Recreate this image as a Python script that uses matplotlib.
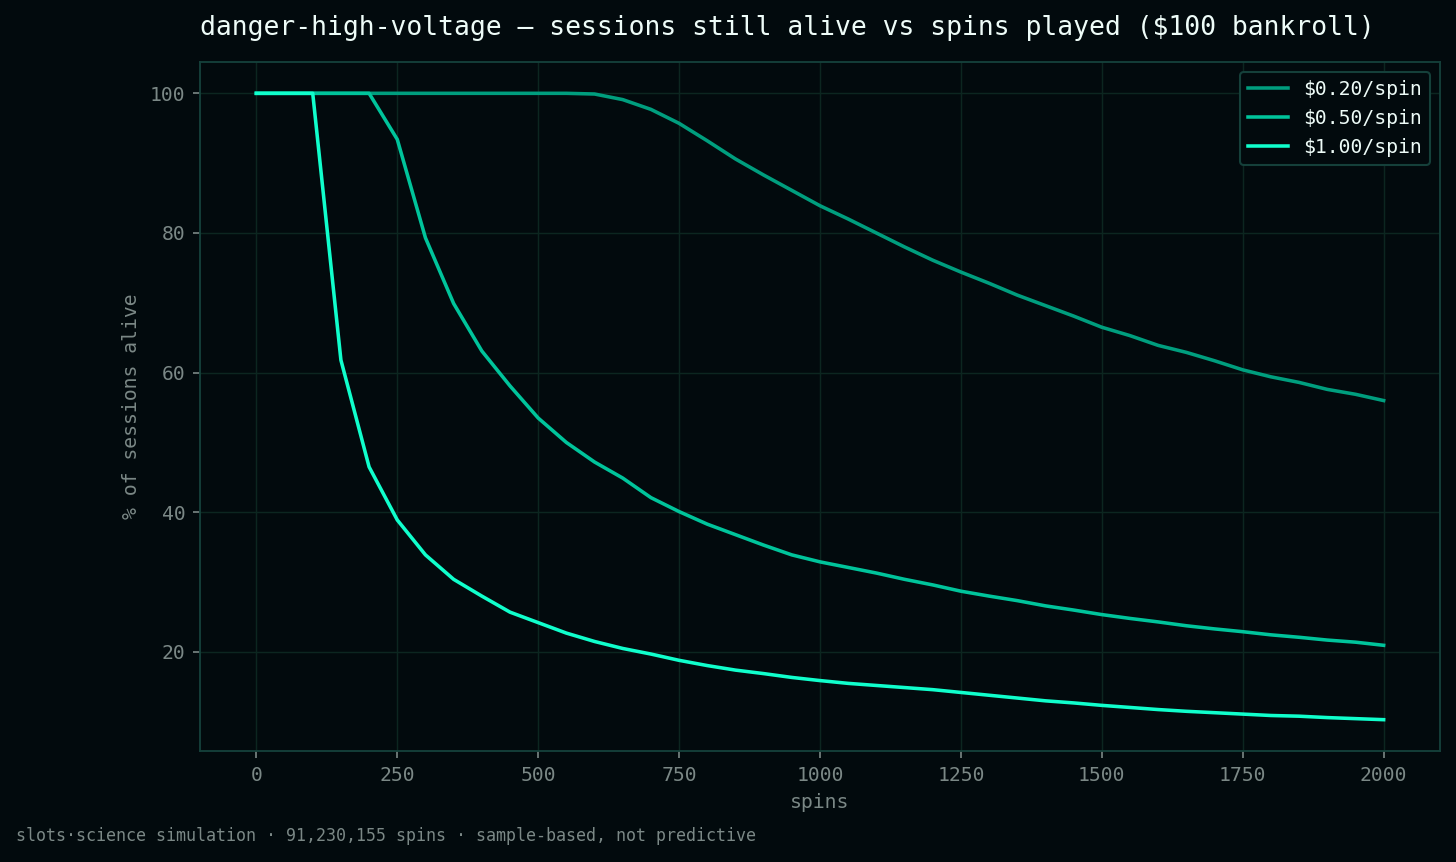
import numpy as np
import matplotlib
matplotlib.use("Agg")
import matplotlib.pyplot as plt

# spins played, every 50 spins
spins = np.arange(0, 2001, 50)

# % of sessions still alive
alive_020 = [100, 100, 100, 100, 100, 100, 100, 100, 100, 100,
             100, 100, 99.9, 99.1, 97.7, 95.7, 93.2, 90.6, 88.3, 86.1,
             83.9, 82.0, 80.0, 78.0, 76.1, 74.4, 72.8, 71.1, 69.6, 68.1,
             66.5, 65.3, 63.9, 62.9, 61.7, 60.4, 59.4, 58.6, 57.6, 56.9,
             56.0]
alive_050 = [100, 100, 100, 100, 100, 93.4, 79.3, 69.9, 63.1, 58.1,
             53.5, 50.0, 47.2, 44.9, 42.1, 40.1, 38.3, 36.8, 35.3, 33.9,
             32.9, 32.1, 31.3, 30.4, 29.6, 28.7, 28.0, 27.35, 26.6, 26.0,
             25.35, 24.8, 24.3, 23.75, 23.3, 22.9, 22.45, 22.1, 21.7, 21.4,
             20.95]
alive_100 = [100, 100, 100, 61.8, 46.5, 38.9, 33.9, 30.4, 28.0, 25.7,
             24.2, 22.7, 21.5, 20.5, 19.7, 18.8, 18.05, 17.4, 16.9, 16.35,
             15.9, 15.5, 15.2, 14.9, 14.6, 14.2, 13.8, 13.4, 13.0, 12.7,
             12.35, 12.05, 11.75, 11.5, 11.3, 11.1, 10.9, 10.8, 10.6, 10.45,
             10.3]

labels = ["$0.20/spin", "$0.50/spin", "$1.00/spin"]
colors = ["#009e7e", "#00c49b", "#10ffcc"]

bg = "#020a0d"
grid_c = "#0c2620"
spine_c = "#15403a"
muted = "#7b8886"

plt.rcParams["font.family"] = ["DejaVu Sans Mono", "DejaVu Sans"]

fig = plt.figure(figsize=(1456 / 150, 862 / 150), dpi=150, facecolor=bg)
ax = fig.add_axes([200 / 1456, 1 - 751 / 862, 1240 / 1456, 689 / 862])
ax.set_facecolor(bg)

for ys, lab, c in zip([alive_020, alive_050, alive_100], labels, colors):
    ax.plot(spins, ys, color=c, lw=1.7, label=lab)

ax.grid(True, color=grid_c, lw=0.7)
ax.set_axisbelow(True)
for s in ax.spines.values():
    s.set_color(spine_c)
    s.set_linewidth(0.9)
ax.tick_params(colors=muted, labelsize=9.5, length=3.5, width=0.8)
ax.set_xticks([0, 250, 500, 750, 1000, 1250, 1500, 1750, 2000])
ax.set_yticks([20, 40, 60, 80, 100])

ax.set_xlabel("spins", color=muted, fontsize=9.5)
ax.set_ylabel("% of sessions alive", color=muted, fontsize=9.5)
ax.set_title("danger-high-voltage — sessions still alive vs spins played ($100 bankroll)",
             loc="left", color="#eefcf8", fontsize=12.7, pad=13)

leg = ax.legend(loc="upper right", fontsize=9.5, facecolor=bg, edgecolor=spine_c,
                framealpha=1, labelcolor="#eefcf8")

fig.text(16 / 1456, 1 - 836 / 862, "slots·science simulation · 91,230,155 spins · sample-based, not predictive",
         color=muted, fontsize=8, va="center", ha="left")

fig.savefig("out.png", dpi=150, facecolor=bg)
